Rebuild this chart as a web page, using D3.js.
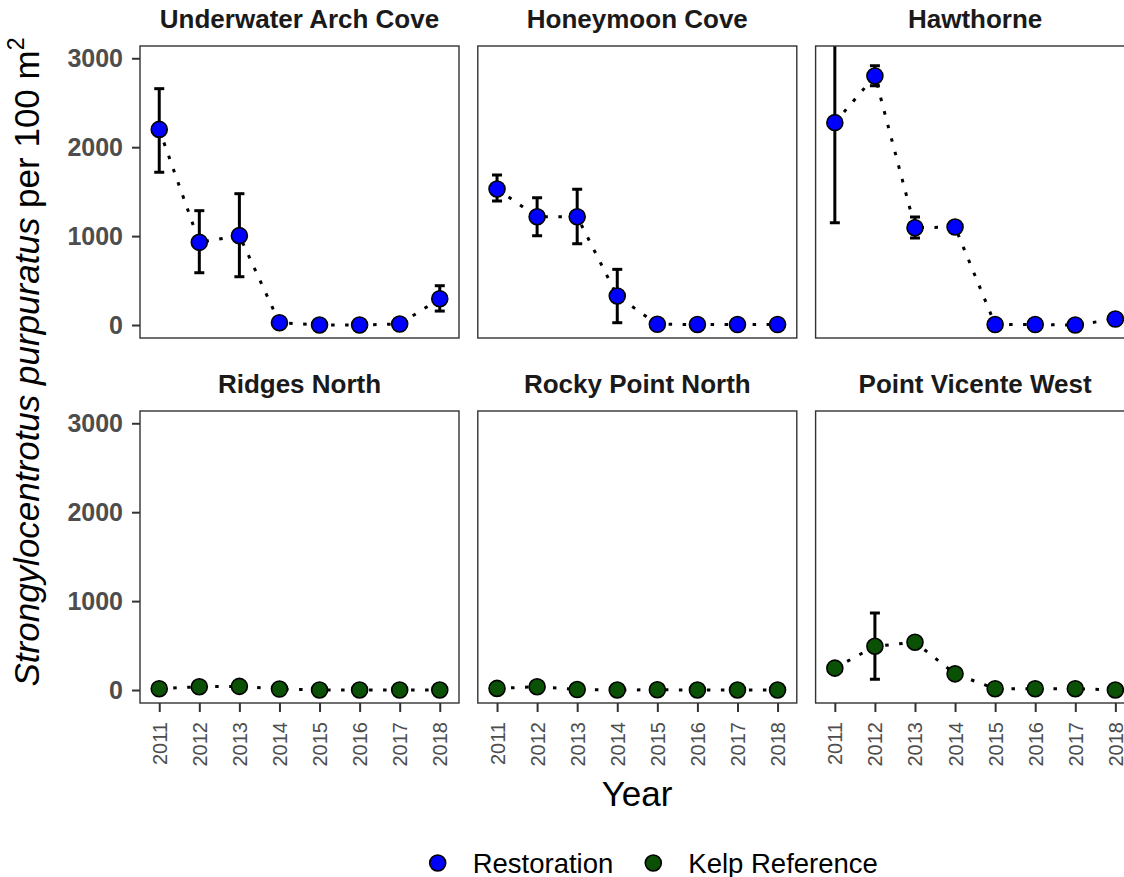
<!DOCTYPE html>
<html><head><meta charset="utf-8">
<script src="https://cdn.jsdelivr.net/npm/d3@7"></script>
<style>body{margin:0;background:#fff}</style>
</head><body><svg id="c" width="1124" height="877"></svg>
<script>
// ---- data ----
const years = [2011, 2012, 2013, 2014, 2015, 2016, 2017, 2018];
const sites = ["Underwater Arch Cove", "Honeymoon Cove", "Hawthorne",
               "Ridges North", "Rocky Point North", "Point Vicente West"];
const siteGroup = ["Restoration", "Restoration", "Restoration",
                   "Kelp Reference", "Kelp Reference", "Kelp Reference"];
const groupNames = ["Restoration", "Kelp Reference"];
const groupColors = ["#0000ff", "#0a5005"];
const yTicks = [0, 1000, 2000, 3000];

const uacMean = [2200, 930, 1005, 26, 0, 0, 11, 296];
const uacLow  = [1718, 588, 543, null, null, null, null, 157];
const uacHigh = [2658, 1286, 1477, null, null, null, null, 442];

const hcMean = [1530, 1218, 1218, 326, 8, 6, 5, 5];
const hcLow  = [1395, 1005, 915, 26, null, null, null, null];
const hcHigh = [1687, 1432, 1526, 626, null, null, null, null];

const hawMean = [2276, 2801, 1094, 1102, 5, 5, 0, 67];
const hawLow  = [1151, 2692, 979, null, null, null, null, null];
const hawHigh = [3401, 2917, 1215, null, null, null, null, null];

const rnMean = [15, 37, 41, 11, 0, 0, 0, 0];
const rnLow  = [null, null, null, null, null, null, null, null];
const rnHigh = [null, null, null, null, null, null, null, null];

const rpnMean = [18, 37, 5, 0, 3, 0, 0, 0];
const rpnLow  = [null, null, null, null, null, null, null, null];
const rpnHigh = [null, null, null, null, null, null, null, null];

const pvwMean = [246, 492, 537, 182, 15, 15, 15, 0];
const pvwLow  = [null, 120, null, null, null, null, null, null];
const pvwHigh = [null, 867, null, null, null, null, null, null];

const means = [uacMean, hcMean, hawMean, rnMean, rpnMean, pvwMean];
const lows  = [uacLow, hcLow, hawLow, rnLow, rpnLow, pvwLow];
const highs = [uacHigh, hcHigh, hawHigh, rnHigh, rpnHigh, pvwHigh];

// ---- layout ----
const svg = d3.select("#c");
const font = "'Liberation Sans', Arial, Helvetica, sans-serif";
const pw = 319, ph = 292;
const colX = c => 140 + c * 337.8;
const rowY = r => 46 + r * 365;

const x = d3.scaleLinear().domain([2010.52, 2018.48]).range([0, pw]);
const y = d3.scaleLinear().domain([-146, 3138]).range([ph, 0]);
const color = d3.scaleOrdinal().domain(groupNames).range(groupColors);

const defs = svg.append("defs");

sites.forEach((site, i) => {
  const c = i % 3, r = Math.floor(i / 3);
  const g = svg.append("g").attr("transform", `translate(${colX(c)},${rowY(r)})`);
  defs.append("clipPath").attr("id", "clip" + i)
    .append("rect").attr("width", pw).attr("height", ph);

  // strip title
  g.append("text").attr("x", pw / 2).attr("y", -18)
    .attr("text-anchor", "middle").attr("font-family", font)
    .attr("font-weight", "bold").attr("font-size", 26).attr("fill", "#1a1a1a")
    .text(site);

  const data = years.map((yr, k) => ({yr, m: means[i][k], lo: lows[i][k], hi: highs[i][k]}));
  const plot = g.append("g").attr("clip-path", `url(#clip${i})`);

  // dotted line
  plot.append("path").datum(data)
    .attr("d", d3.line().x(d => x(d.yr)).y(d => y(d.m)))
    .attr("fill", "none").attr("stroke", "#000").attr("stroke-width", 3)
    .attr("stroke-dasharray", "3.5 10.5");

  // error bars
  const eb = data.filter(d => d.lo != null);
  const ebg = plot.selectAll("g.eb").data(eb).enter().append("g")
    .attr("stroke", "#000").attr("stroke-width", 3);
  ebg.append("line").attr("x1", d => x(d.yr)).attr("x2", d => x(d.yr))
    .attr("y1", d => y(d.lo)).attr("y2", d => y(d.hi));
  ebg.append("line").attr("x1", d => x(d.yr) - 5).attr("x2", d => x(d.yr) + 5)
    .attr("y1", d => y(d.lo)).attr("y2", d => y(d.lo));
  ebg.append("line").attr("x1", d => x(d.yr) - 5).attr("x2", d => x(d.yr) + 5)
    .attr("y1", d => y(d.hi)).attr("y2", d => y(d.hi));

  // points
  plot.selectAll("circle").data(data).enter().append("circle")
    .attr("cx", d => x(d.yr)).attr("cy", d => y(d.m)).attr("r", 8)
    .attr("fill", color(siteGroup[i])).attr("stroke", "#000").attr("stroke-width", 1.6);

  // panel border
  g.append("rect").attr("width", pw).attr("height", ph)
    .attr("fill", "none").attr("stroke", "#333").attr("stroke-width", 1.4);

  if (c === 0) {
    const ya = g.append("g").call(d3.axisLeft(y).tickValues(yTicks)
      .tickFormat(d3.format("d")).tickSize(8).tickPadding(9));
    ya.select(".domain").remove();
    ya.selectAll("line").attr("stroke", "#333").attr("stroke-width", 2);
    ya.selectAll("text").attr("font-family", font).attr("font-weight", "bold")
      .attr("font-size", 25).attr("fill", "#4d4d4d");
  }
  if (r === 1) {
    const xa = g.append("g").attr("transform", `translate(0,${ph})`)
      .call(d3.axisBottom(x).tickValues(years).tickFormat(d3.format("d")).tickSize(9));
    xa.select(".domain").remove();
    xa.selectAll("line").attr("stroke", "#333").attr("stroke-width", 2);
    xa.selectAll("text").attr("font-family", font).attr("font-size", 20).attr("fill", "#4d4d4d")
      .attr("transform", "rotate(-90)").attr("text-anchor", "end")
      .attr("x", -19).attr("y", 0).attr("dy", "0.35em");
  }
});

// axis titles
const yt = svg.append("text").attr("transform", "translate(39,362) rotate(-90)")
  .attr("text-anchor", "middle").attr("font-family", font).attr("font-size", 35).attr("fill", "#000");
yt.append("tspan").attr("font-style", "italic").text("Strongylocentrotus purpuratus");
yt.append("tspan").text(" per 100 m");
yt.append("tspan").attr("font-size", 23).attr("dy", -15).text("2");

svg.append("text").attr("x", 637).attr("y", 806).attr("text-anchor", "middle")
  .attr("font-family", font).attr("font-size", 35).attr("fill", "#000").text("Year");

// legend
const legX = [437.7, 653.3];
groupNames.forEach((gname, k) => {
  svg.append("circle").attr("cx", legX[k]).attr("cy", 863).attr("r", 8)
    .attr("fill", color(gname)).attr("stroke", "#000").attr("stroke-width", 1.6);
  svg.append("text").attr("x", legX[k] + 35).attr("y", 872.5)
    .attr("font-family", font).attr("font-size", 27.5).attr("fill", "#000").text(gname);
});
</script></body></html>
